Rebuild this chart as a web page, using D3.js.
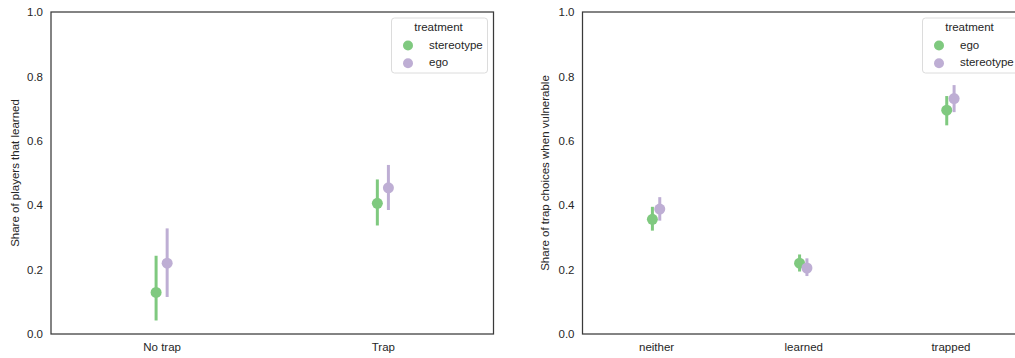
<!DOCTYPE html>
<html>
<head>
<meta charset="utf-8">
<script src="https://cdn.jsdelivr.net/npm/d3@7"></script>
<style>
  body { margin: 0; background: #fff; }
  text { font-family: "Liberation Sans", Arial, sans-serif; fill: #262626; }
</style>
</head>
<body>
<div id="chart"></div>
<script>
// left panel
const leftCats = ['No trap', 'Trap'];
const leftSeries = ['stereotype', 'ego'];
const leftMean = [[0.129, 0.406], [0.220, 0.454]];
const leftLow  = [[0.042, 0.337], [0.115, 0.385]];
const leftHigh = [[0.243, 0.480], [0.328, 0.525]];

// right panel
const rightCats = ['neither', 'learned', 'trapped'];
const rightSeries = ['ego', 'stereotype'];
const rightMean = [[0.356, 0.220, 0.695], [0.388, 0.205, 0.731]];
const rightLow  = [[0.321, 0.194, 0.648], [0.352, 0.180, 0.689]];
const rightHigh = [[0.395, 0.247, 0.739], [0.425, 0.235, 0.773]];

const yTicks = [0, 0.2, 0.4, 0.6, 0.8, 1.0];
const colors = ['#7fc97f', '#beaed4'];

const W = 1015, H = 358;
const svg = d3.select('#chart').append('svg')
    .attr('width', W)
    .attr('height', H);

function drawPanel(opt) {
    let g = svg.append('g');

    let x = d3.scalePoint()
        .domain(opt.cats)
        .range([opt.left, opt.right])
        .padding(0.5);
    let y = d3.scaleLinear().domain([0, 1]).range([334, 12]);
    let dodge = x.step() * 0.025;

    // y tick labels
    g.append('g')
        .attr('transform', 'translate(' + opt.left + ',0)')
        .call(d3.axisLeft(y).tickValues(yTicks).tickFormat(d3.format('.1f')).tickSize(0).tickPadding(8))
        .call(a => a.select('.domain').remove())
        .selectAll('text')
        .style('font-size', '11.5px')
        .attr('fill', '#262626');

    // x tick labels
    g.append('g')
        .attr('transform', 'translate(0,334)')
        .call(d3.axisBottom(x).tickSize(0).tickPadding(9))
        .call(a => a.select('.domain').remove())
        .selectAll('text')
        .style('font-size', '11.5px')
        .attr('fill', '#262626');

    // y label
    g.append('text')
        .attr('transform', 'translate(' + opt.labelX + ',' + y(0.5) + ') rotate(-90)')
        .attr('text-anchor', 'middle')
        .attr('dy', '0.35em')
        .style('font-size', '11.5px')
        .text(opt.ylabel);

    // points + error bars
    opt.series.forEach(function(s, si) {
        let off = si === 0 ? -dodge : dodge;
        let pts = opt.cats.map(function(c, ci) {
            return {c: c, m: opt.mean[si][ci], lo: opt.low[si][ci], hi: opt.high[si][ci]};
        });
        let sg = g.append('g');
        sg.selectAll('line')
            .data(pts)
            .enter().append('line')
            .attr('x1', d => x(d.c) + off)
            .attr('x2', d => x(d.c) + off)
            .attr('y1', d => y(d.lo))
            .attr('y2', d => y(d.hi))
            .attr('stroke', colors[si])
            .attr('stroke-width', 3);
        sg.selectAll('circle')
            .data(pts)
            .enter().append('circle')
            .attr('cx', d => x(d.c) + off)
            .attr('cy', d => y(d.m))
            .attr('r', 5.5)
            .attr('fill', colors[si]);
    });

    // frame
    g.append('rect')
        .attr('x', opt.left)
        .attr('y', 12)
        .attr('width', opt.right - opt.left)
        .attr('height', 322)
        .attr('fill', 'none')
        .attr('stroke', '#3a3a3a')
        .attr('stroke-width', 1.25);

    // legend
    let lg = g.append('g').attr('transform', 'translate(' + opt.legendX + ',18)');
    lg.append('rect')
        .attr('width', opt.legendW)
        .attr('height', 55)
        .attr('rx', 3)
        .attr('fill', 'rgba(255,255,255,0.8)')
        .attr('stroke', '#dcdcdc')
        .attr('stroke-width', 1);
    lg.append('text')
        .attr('x', 47)
        .attr('y', 9)
        .attr('dy', '0.35em')
        .attr('text-anchor', 'middle')
        .style('font-size', '11.5px')
        .text('treatment');
    opt.series.forEach(function(s, si) {
        lg.append('circle')
            .attr('cx', 16.5)
            .attr('cy', 27.5 + si * 17.7)
            .attr('r', 5)
            .attr('fill', colors[si]);
        lg.append('text')
            .attr('x', 37.5)
            .attr('y', 26.5 + si * 17.7)
            .attr('dy', '0.35em')
            .style('font-size', '11.5px')
            .text(s);
    });
}

drawPanel({
    cats: leftCats, series: leftSeries,
    mean: leftMean, low: leftLow, high: leftHigh,
    left: 51, right: 493.5, labelX: 15,
    ylabel: 'Share of players that learned',
    legendX: 391.5, legendW: 96
});

drawPanel({
    cats: rightCats, series: rightSeries,
    mean: rightMean, low: rightLow, high: rightHigh,
    left: 582.5, right: 1024, labelX: 545,
    ylabel: 'Share of trap choices when vulnerable',
    legendX: 922.5, legendW: 96
});
</script>
</body>
</html>
